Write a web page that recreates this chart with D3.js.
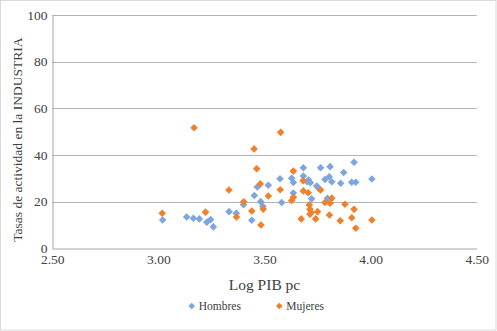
<!DOCTYPE html>
<html><head><meta charset="utf-8">
<script src="https://cdn.jsdelivr.net/npm/d3@7"></script>
<style>body{margin:0;background:#fff}svg{display:block}</style>
</head><body>
<script>
const hombresX = [3.02,3.133,3.165,3.193,3.228,3.246,3.259,3.333,3.367,3.401,3.44,3.452,3.466,3.482,3.492,3.518,3.573,3.581,3.628,3.636,3.636,3.683,3.683,3.700,3.708,3.716,3.722,3.746,3.754,3.764,3.785,3.797,3.805,3.809,3.817,3.859,3.873,3.911,3.922,3.930,4.006];
const hombresY = [12.1,13.4,12.9,12.6,11.2,12.3,9.2,15.7,15.0,18.7,12.0,22.6,26.3,20.0,18.0,27.0,29.8,19.6,30.0,28.2,23.7,34.5,31.0,28.5,29.3,28.1,21.2,26.7,25.8,34.5,29.5,21.4,30.7,35.0,28.5,27.9,32.5,28.3,36.9,28.3,29.7];
const mujeresX = [3.018,3.168,3.222,3.332,3.368,3.402,3.440,3.451,3.463,3.480,3.518,3.494,3.483,3.576,3.574,3.628,3.636,3.636,3.682,3.683,3.706,3.711,3.714,3.714,3.720,3.673,3.741,3.750,3.764,3.785,3.809,3.817,3.806,3.857,3.879,3.911,3.922,3.930,4.006];
const mujeresY = [15.0,51.7,15.5,25.0,13.4,19.9,16.0,42.6,34.1,27.6,22.4,16.8,10.0,49.7,25.1,20.5,21.9,33.1,29.0,24.6,23.8,18.6,16.7,14.6,15.3,12.6,12.6,15.7,25.0,19.6,19.3,21.5,14.3,11.8,18.9,13.1,16.7,8.6,12.1];
const xTicks = [2.5,3.0,3.5,4.0,4.5];
const yTicks = [0,20,40,60,80,100];
const seriesNames = ["Hombres","Mujeres"];
const colors = ["#7ea6de","#f0802a"];

const W = 497, H = 331;
const svg = d3.select("body").append("svg").attr("width", W).attr("height", H);
svg.append("rect").attr("x",0.5).attr("y",0.5).attr("width",W-1.5).attr("height",H-1.5)
  .attr("fill","#fff").attr("stroke","#d9d9d9");

const x = d3.scaleLinear().domain([2.5,4.5]).range([52.3,476.7]);
const y = d3.scaleLinear().domain([0,100]).range([248.3,15]);
const font = "'Liberation Serif', 'DejaVu Serif', serif";

// gridlines
svg.append("g").selectAll("line").data(yTicks.filter(d=>d>0)).join("line")
  .attr("x1", x(2.5)).attr("x2", x(4.5))
  .attr("y1", d=>Math.round(y(d))+0.5).attr("y2", d=>Math.round(y(d))+0.5)
  .attr("stroke","#b3b3b3").attr("stroke-width",1);

// axes
const xAxis = d3.axisBottom(x).tickValues(xTicks).tickFormat(d3.format(".2f")).tickSize(0).tickPadding(6);
const gx = svg.append("g").attr("transform",`translate(0,${Math.round(y(0))+0.5})`).call(xAxis);
gx.select(".domain").attr("stroke","#a6a6a6");
gx.selectAll("text").attr("font-family",font).attr("font-size","13.5px").attr("fill","#404040");

const yAxis = d3.axisLeft(y).tickValues(yTicks).tickFormat(d3.format("d")).tickSize(0).tickPadding(5);
const gy = svg.append("g").attr("transform",`translate(${Math.round(x(2.5))+0.5},0)`).call(yAxis);
gy.select(".domain").attr("stroke","#a6a6a6");
gy.selectAll("text").attr("font-family",font).attr("font-size","13.5px").attr("fill","#404040");

// diamond marker
const r = 3.8;
const diamond = `M0,${-r}L${r},0L0,${r}L${-r},0Z`;

const hombres = hombresX.map((v,i)=>({x:v,y:hombresY[i]}));
const mujeres = mujeresX.map((v,i)=>({x:v,y:mujeresY[i]}));
[hombres, mujeres].forEach((data, si)=>{
  svg.append("g").selectAll("path").data(data).join("path")
    .attr("d", diamond)
    .attr("transform", d=>`translate(${x(d.x)},${y(d.y)})`)
    .attr("fill", colors[si]);
});

// titles
svg.append("text").attr("x", (x(2.5)+x(4.5))/2).attr("y", 290)
  .attr("text-anchor","middle").attr("font-family",font).attr("font-size","15.5px").attr("fill","#404040")
  .text("Log PIB pc");
svg.append("text").attr("transform",`translate(22,${(y(0)+y(100))/2 + 8}) rotate(-90)`)
  .attr("text-anchor","middle").attr("font-family",font).attr("font-size","13.5px").attr("fill","#404040")
  .text("Tasas de actividad en la INDUSTRIA");

// legend
const legendX = [191.7, 279.3];
seriesNames.forEach((name,i)=>{
  const g = svg.append("g").attr("transform",`translate(${legendX[i]},306)`);
  g.append("path").attr("d", `M0,-3.3L3.3,0L0,3.3L-3.3,0Z`).attr("fill", colors[i]);
  g.append("text").attr("x",7).attr("y",4).attr("font-family",font).attr("font-size","11.5px").attr("fill","#404040").text(name);
});
</script>
</body></html>
